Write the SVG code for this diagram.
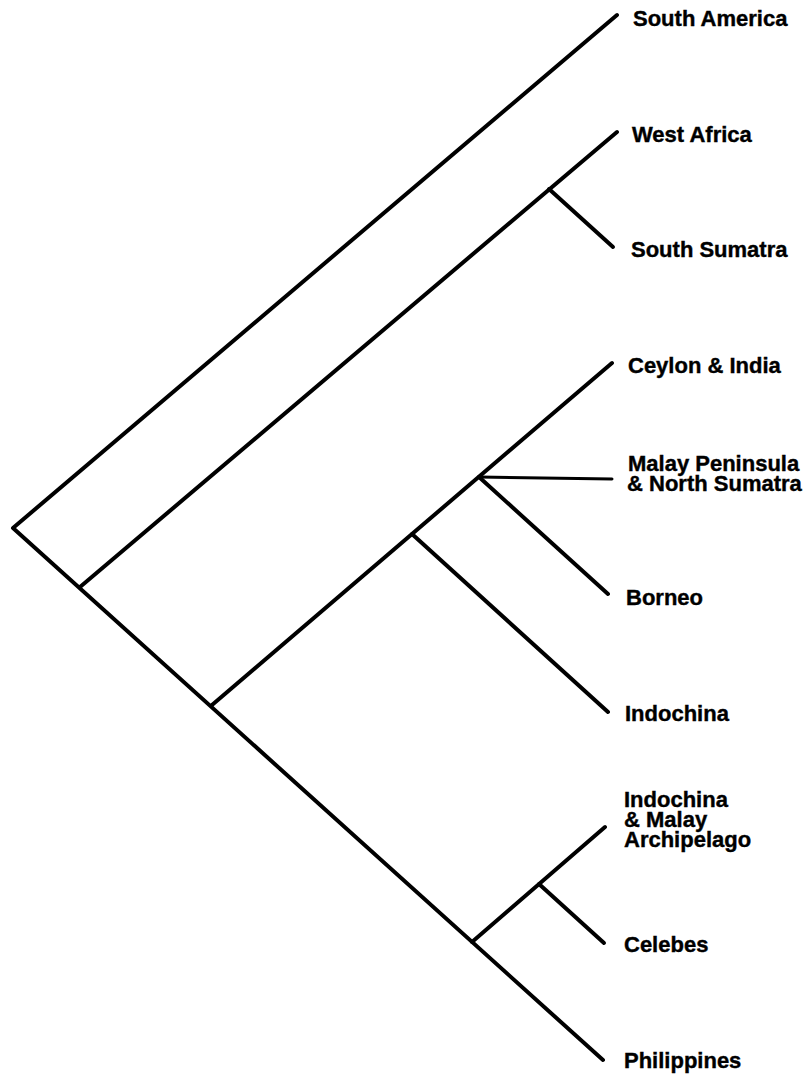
<svg xmlns="http://www.w3.org/2000/svg" width="811" height="1080" viewBox="0 0 811 1080">
<style>
.e{stroke:#000;stroke-width:4;fill:none;stroke-linecap:round;stroke-linejoin:round}
.thin{stroke-width:3}
text{font-family:"Liberation Sans",Arial,sans-serif;font-weight:bold;font-size:22px;fill:#000;stroke:#000;stroke-width:0.4}
</style>
<rect width="811" height="1080" fill="#fff"/>
<g id="connectors">
<path class="e" d="M617,15 L13,528 L603,1060"/>
<path class="e" d="M617,132 L80,587"/>
<path class="e" d="M549,189 L613,247"/>
<path class="e" d="M612,363 L212,705"/>
<path class="e" d="M412,534 L608,712"/>
<path class="e" d="M479,477 L608,594"/>
<path class="e thin" d="M479,477 L612,479"/>
<path class="e" d="M605,827 L472,942"/>
<path class="e" d="M539,884 L604,943"/>
</g>
<g id="n-south-america"><text x="633" y="26">South America</text></g>
<g id="n-west-africa"><text x="632" y="142">West Africa</text></g>
<g id="n-south-sumatra"><text x="631" y="257">South Sumatra</text></g>
<g id="n-ceylon-india"><text x="628" y="373">Ceylon &amp; India</text></g>
<g id="n-malay-peninsula"><text x="628" y="471">Malay Peninsula</text><text x="627" y="491">&amp; North Sumatra</text></g>
<g id="n-borneo"><text x="626" y="605">Borneo</text></g>
<g id="n-indochina"><text x="625" y="721">Indochina</text></g>
<g id="n-indochina-malay"><text x="624" y="807">Indochina</text><text x="624" y="827">&amp; Malay</text><text x="624" y="847">Archipelago</text></g>
<g id="n-celebes"><text x="624" y="952">Celebes</text></g>
<g id="n-philippines"><text x="624" y="1068">Philippines</text></g>
</svg>
